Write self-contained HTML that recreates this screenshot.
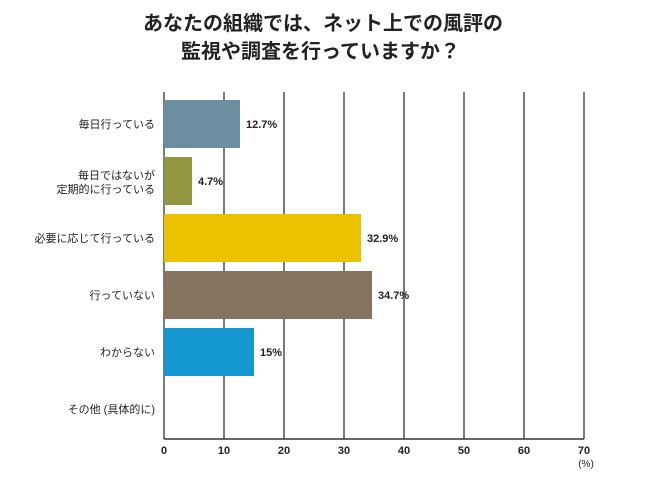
<!DOCTYPE html>
<html><head><meta charset="utf-8"><style>
body{margin:0;background:#fff;}
svg text{font-family:"Liberation Sans","Noto Sans CJK JP",sans-serif;}
</style></head><body>
<svg width="670" height="491" xmlns="http://www.w3.org/2000/svg">
<rect width="670" height="491" fill="#fff"/>
<text x="143" y="30" font-size="20" font-weight="bold" fill="#222">あなたの組織では、ネット上での風評の</text>
<text x="181" y="58" font-size="20" font-weight="bold" fill="#222">監視や調査を行っていますか？</text>
<g stroke="#333" stroke-width="1.3">
<line x1="164" y1="92" x2="164" y2="439"/>
<line x1="224" y1="92" x2="224" y2="439"/>
<line x1="284" y1="92" x2="284" y2="439"/>
<line x1="344" y1="92" x2="344" y2="439"/>
<line x1="404" y1="92" x2="404" y2="439"/>
<line x1="464" y1="92" x2="464" y2="439"/>
<line x1="524" y1="92" x2="524" y2="439"/>
<line x1="584" y1="92" x2="584" y2="439"/>
<line x1="164" y1="439" x2="584" y2="439" stroke-width="1.6"/>
</g>
<rect x="164" y="100" width="76" height="48" fill="#6b8fa0"/>
<rect x="164" y="157" width="28" height="48" fill="#939640"/>
<rect x="164" y="214" width="197" height="48" fill="#ecc100"/>
<rect x="164" y="271" width="208" height="48" fill="#85735f"/>
<rect x="164" y="328" width="90" height="48" fill="#1597d0"/>
<g font-size="11" font-weight="bold" fill="#222">
<text x="246" y="128">12.7%</text>
<text x="198" y="185">4.7%</text>
<text x="367" y="242">32.9%</text>
<text x="378" y="299">34.7%</text>
<text x="260" y="356">15%</text>
</g>
<g font-size="11" fill="#222" text-anchor="end">
<text x="155" y="128">毎日行っている</text>
<text x="155" y="179">毎日ではないが</text>
<text x="155" y="193">定期的に行っている</text>
<text x="155" y="242">必要に応じて行っている</text>
<text x="155" y="299">行っていない</text>
<text x="155" y="356">わからない</text>
<text x="155" y="413">その他 (具体的に)</text>
</g>
<g font-size="11" font-weight="bold" fill="#222" text-anchor="middle">
<text x="164" y="454">0</text><text x="224" y="454">10</text><text x="284" y="454">20</text>
<text x="344" y="454">30</text><text x="404" y="454">40</text><text x="464" y="454">50</text>
<text x="524" y="454">60</text><text x="584" y="454">70</text>
<text x="586" y="467" font-size="10" font-weight="normal">(%)</text>
</g>
</svg>
</body></html>
